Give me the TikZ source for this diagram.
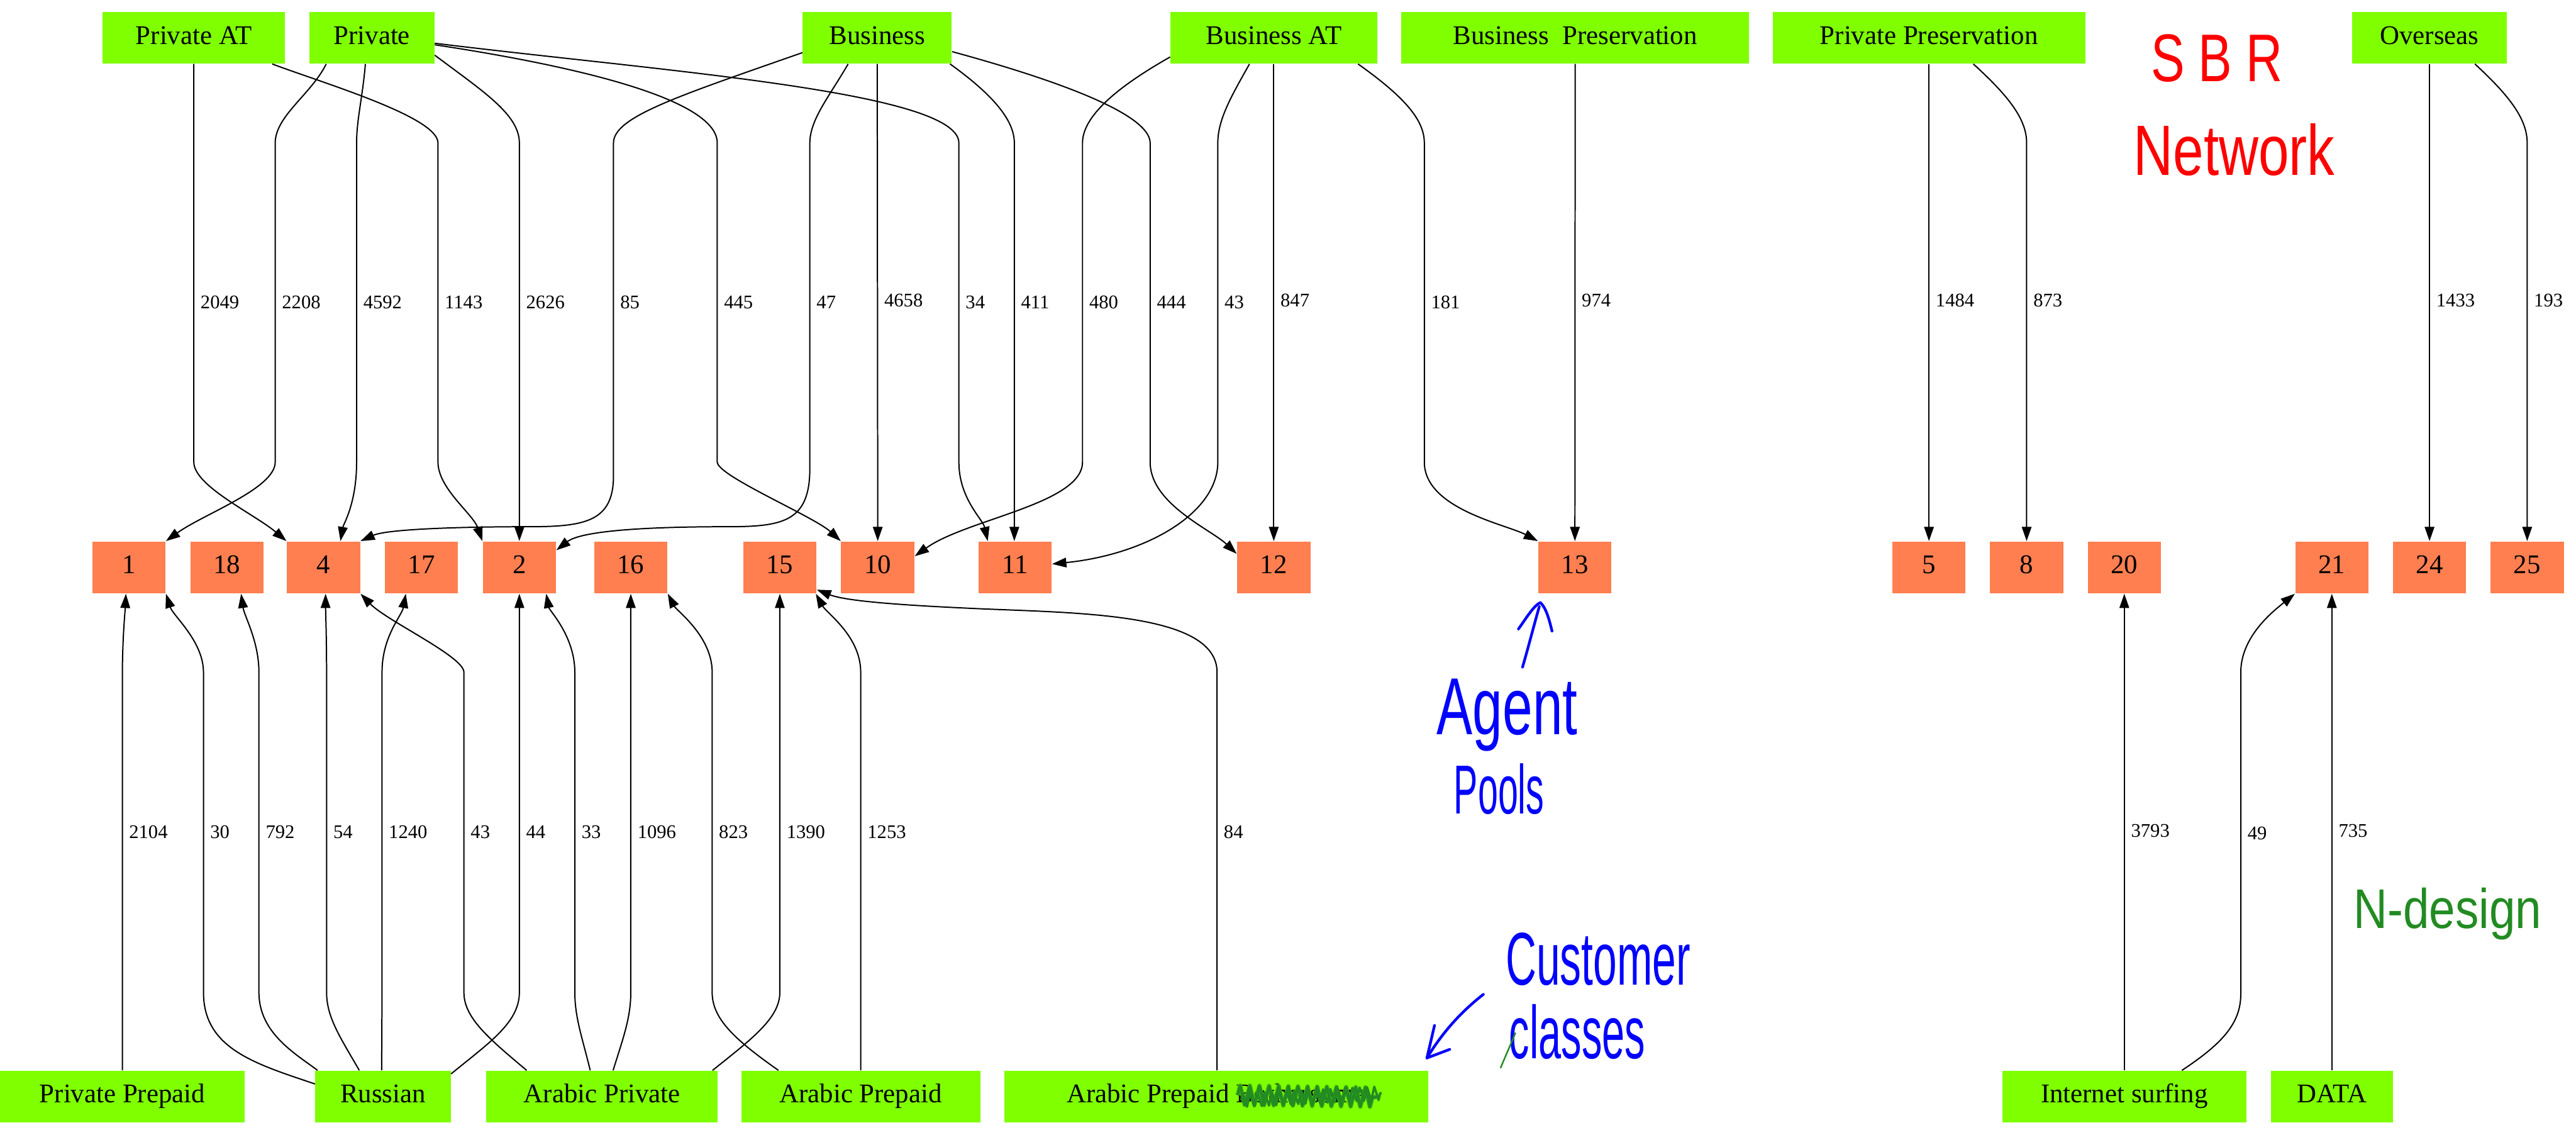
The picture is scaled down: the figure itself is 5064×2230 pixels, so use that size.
\documentclass[tikz,border=0pt]{standalone}
\usepackage{fontspec}
\usepackage{graphicx}
\setmainfont{Liberation Serif}
\newfontfamily\handfont{Liberation Sans}
\usetikzlibrary{arrows.meta,calc,decorations.pathmorphing}

\definecolor{classgreen}{HTML}{7FFF00}
\definecolor{poolcoral}{HTML}{FF7F50}
\definecolor{penred}{HTML}{FF0000}
\definecolor{penblue}{HTML}{0000FF}
\definecolor{pengreen}{HTML}{228B22}

% one drawing unit
\newcommand{\pxl}{0.2641pt}

\tikzset{
  cls/.style={fill=classgreen, inner sep=0pt, minimum height=101*\pxl,
    font=\fontsize{14}{16}\selectfont, text height=9.3pt, text depth=2.8pt},
  pool/.style={fill=poolcoral, inner sep=0pt, minimum width=144*\pxl, minimum height=102*\pxl,
    font=\fontsize{14}{16}\selectfont, text height=9.3pt, text depth=2.8pt},
  flow/.style={line width=0.65pt, -{Triangle[length=7.4pt,width=5pt]}},
  lab/.style={anchor=west, inner sep=0pt, xshift=3.2pt, font=\fontsize{10}{11}\selectfont},
  pen/.style={line width=1.4pt, line cap=round, line join=round},
  hand/.style={inner sep=0pt},
}

\begin{document}
\begin{tikzpicture}[x=\pxl, y=-\pxl]
\fill[white] (0,0) rectangle (5064,2230);
\useasboundingbox (0,0) rectangle (5064,2230);

% ---- customer classes (top row)
\node[cls, minimum width=358*\pxl] (pat) at (381,74.5) {Private AT};
\node[cls, minimum width=246*\pxl] (pri) at (731,74.5) {Private};
\node[cls, minimum width=293*\pxl] (bus) at (1724.5,74.5) {Business};
\node[cls, minimum width=406*\pxl] (bat) at (2504,74.5) {Business AT};
\node[cls, minimum width=683*\pxl] (bpr) at (3096.5,74.5) {Business\ \ Preservation};
\node[cls, minimum width=614*\pxl] (ppr) at (3792,74.5) {Private Preservation};
\node[cls, minimum width=304*\pxl] (ovs) at (4776,74.5) {Overseas};

% ---- agent pools
\foreach \n/\x in {1/253.5, 18/446, 4/636, 17/828.5, 2/1021, 16/1240, 15/1533,
                   10/1725.5, 11/1995.5, 12/2504, 13/3096, 5/3792, 8/3984,
                   20/4176, 21/4584, 24/4776, 25/4968}
  \node[pool] (o\n) at (\x,1115) {\n};

% ---- customer classes (bottom row)
\node[cls, minimum width=481*\pxl] (pp) at (240.5,2154.5) {Private Prepaid};
\node[cls, minimum width=266*\pxl] (rus) at (753,2154.5) {Russian};
\node[cls, minimum width=455*\pxl] (ap) at (1183.5,2154.5) {Arabic Private};
\node[cls, minimum width=470*\pxl] (apr) at (1692,2154.5) {Arabic Prepaid};
\node[cls, minimum width=833*\pxl] (apb) at (2391.5,2154.5) {Arabic Prepaid Bothersome};
\node[cls, minimum width=480*\pxl] (inet) at (4176,2154.5) {Internet surfing};
\node[cls, minimum width=240*\pxl] (data) at (4584,2154.5) {DATA};

% ---- flows from the top classes
\draw[flow] (pat.south) -- (381,281) -- node[lab] (lt2049) {2049} (381,908)
  .. controls (381,955) and (500,1010) .. (o4.north west);
\draw[flow] ($(pri.south west)+(34,0)$) .. controls (612,185) and (541,228) .. (541,281)
  -- node[lab] (lt2208) {2208} (541,908) .. controls (541,960) and (400,1010) .. (o1.north east);
\draw[flow] ($(pri.south west)+(111,0)$) .. controls (713,190) and (701,235) .. (701,281)
  -- node[lab] (lt4592) {4592} (701,908) .. controls (701,990) and (675,1030) .. ($(o4.north west)+(106,0)$);
\draw[flow] ($(pat.south west)+(334,0)$) .. controls (640,165) and (861,230) .. (861,281)
  -- node[lab] (lt1143) {1143} (861,908) .. controls (861,960) and (930,1010) .. (o2.north west);
\draw[flow] ($(pri.east)+(0,34)$) .. controls (950,180) and (1021,225) .. (1021,281)
  -- node[lab] (lt2626) {2626} (1021,908) -- (o2.north);
\draw[flow] ($(bus.west)+(0,29)$) .. controls (1330,190) and (1206,230) .. (1206,281)
  -- node[lab] (lt85) {85} (1206,908) -- (1206,935)
  .. controls (1206,1025) and (1150,1035) .. (1040,1035)
  .. controls (900,1035) and (760,1040) .. (o4.north east);
\draw[flow] ($(pri.east)+(0,13.5)$) .. controls (1100,125) and (1410,190) .. (1410,281)
  -- node[lab] (lt445) {445} (1410,908) .. controls (1410,935) and (1600,1015) .. (o10.north west);
\draw[flow] ($(bus.south west)+(90,0)$) .. controls (1630,190) and (1592,235) .. (1592,281)
  -- node[lab] (lt47) {47} (1592,908) -- (1592,920)
  .. controls (1592,1025) and (1540,1035) .. (1430,1035)
  .. controls (1250,1035) and (1140,1045) .. ($(o2.north east)+(0,18)$);
\draw[flow] (bus.south) -- node[lab, pos=0.496] (lt4658) {4658} (o10.north);
\draw[flow] ($(pri.east)+(0,10.5)$) .. controls (1300,140) and (1885,180) .. (1885,281)
  -- node[lab] (lt34) {34} (1885,908) .. controls (1885,980) and (1932,1020) .. ($(o11.north west)+(19,0)$);
\draw[flow] ($(bus.south east)+(-4,0)$) .. controls (1950,185) and (1994,235) .. (1994,281)
  -- node[lab] (lt411) {411} (1994,908) -- ($(o11.north)+(-1.5,0)$);
\draw[flow] ($(bat.west)+(0,37.5)$) .. controls (2180,180) and (2128,235) .. (2128,281)
  -- node[lab] (lt480) {480} (2128,908) .. controls (2128,990) and (1900,1020) .. ($(o10.east)+(0,-22)$);
\draw[flow] ($(bus.east)+(0,27)$) .. controls (2050,150) and (2261,220) .. (2261,281)
  -- node[lab] (lt444) {444} (2261,908) .. controls (2261,990) and (2380,1040) .. ($(o12.north west)+(0,25)$);
\draw[flow] ($(bat.south west)+(156,0)$) .. controls (2420,190) and (2394,235) .. (2394,281)
  -- node[lab] (lt43) {43} (2394,908) .. controls (2394,1010) and (2250,1090) .. ($(o11.north east)+(0,45)$);
\draw[flow] (bat.south) -- node[lab, pos=0.496] (lt847) {847} (o12.north);
\draw[flow] ($(bat.south east)+(-38,0)$) .. controls (2760,190) and (2800,235) .. (2800,281)
  -- node[lab] (lt181) {181} (2800,908) .. controls (2800,1000) and (2960,1030) .. (o13.north west);
\draw[flow] (bpr.south) -- node[lab, pos=0.496] (lt974) {974} (o13.north);
\draw[flow] (ppr.south) -- node[lab, pos=0.496] (lt1484) {1484} (o5.north);
\draw[flow] ($(ppr.south west)+(395,0)$) .. controls (3950,190) and (3984,235) .. (3984,281)
  -- node[lab, pos=0.396] (lt873) {873} (o8.north);
\draw[flow] (ovs.south) -- node[lab, pos=0.496] (lt1433) {1433} (o24.north);
\draw[flow] ($(ovs.south west)+(242,0)$) .. controls (4935,190) and (4968,235) .. (4968,281)
  -- node[lab, pos=0.396] (lt193) {193} (o25.north);

% ---- flows from the bottom classes
\draw[flow] (pp.north) -- (240.5,1950) -- node[lab] (lb2104) {2104} (240.5,1321)
  .. controls (241,1250) and (246,1200) .. ($(o1.south)+(-6,0)$);
\draw[flow] ($(rus.west)+(0,-24.5)$) .. controls (500,2090) and (400,2060) .. (400,1950)
  -- node[lab] (lb30) {30} (400,1321) .. controls (400,1260) and (340,1210) .. (o1.south east);
\draw[flow] ($(rus.north west)+(5,0)$) .. controls (580,2070) and (509,2030) .. (509,1950)
  -- node[lab] (lb792) {792} (509,1321) .. controls (509,1260) and (480,1210) .. ($(o18.south)+(28,0)$);
\draw[flow] ($(rus.north west)+(87,0)$) .. controls (670,2040) and (642,2000) .. (642,1950)
  -- node[lab] (lb54) {54} (642,1321) .. controls (642,1250) and (640,1200) .. ($(o4.south)+(4,0)$);
\draw[flow] ($(rus.north west)+(131,0)$) -- (751,1950) -- node[lab] (lb1240) {1240} (751,1321)
  .. controls (751,1250) and (790,1210) .. ($(o17.south west)+(42,0)$);
\draw[flow] ($(rus.north east)+(0,7)$) .. controls (960,2050) and (1021,2010) .. (1021,1950)
  -- node[lab] (lb44) {44} (1021,1321) -- (o2.south);
\draw[flow] ($(ap.north west)+(80,0)$) .. controls (960,2040) and (912,2000) .. (912,1950)
  -- node[lab] (lb43) {43} (912,1321) .. controls (912,1290) and (760,1220) .. (o4.south east);
\draw[flow] ($(ap.north west)+(205,0)$) .. controls (1145,2040) and (1130,2000) .. (1130,1950)
  -- node[lab] (lb33) {33} (1130,1321) .. controls (1130,1250) and (1080,1200) .. ($(o2.south east)+(-20,0)$);
\draw[flow] ($(ap.north west)+(250,0)$) .. controls (1225,2040) and (1240,2000) .. (1240,1950)
  -- node[lab] (lb1096) {1096} (1240,1321) -- (o16.south);
\draw[flow] ($(ap.north east)+(-11,0)$) .. controls (1480,2040) and (1533,2000) .. (1533,1950)
  -- node[lab] (lb1390) {1390} (1533,1321) -- (o15.south);
\draw[flow] ($(apr.north west)+(74,0)$) .. controls (1440,2040) and (1400,2000) .. (1400,1950)
  -- node[lab] (lb823) {823} (1400,1321) .. controls (1400,1250) and (1330,1200) .. (o16.south east);
\draw[flow] (apr.north) -- (1692,1950) -- node[lab] (lb1253) {1253} (1692,1321)
  .. controls (1692,1250) and (1625,1205) .. ($(o15.south east)+(-2,0)$);
\draw[flow] ($(apb.north)+(1,0)$) -- (2392.5,1950) -- node[lab] (lb84) {84} (2392.5,1321)
  .. controls (2392.5,1200) and (2100,1205) .. (1900,1195)
  .. controls (1750,1188) and (1660,1180) .. ($(o15.south east)+(0,-8)$);
\draw[flow] (inet.north) -- node[lab, pos=0.503] (lb3793) {3793} (o20.south);
\draw[flow] ($(inet.north west)+(354,0)$) .. controls (4370,2050) and (4405,2010) .. (4405,1953)
  -- node[lab] (lb49) {49} (4405,1321) .. controls (4405,1250) and (4470,1200) .. (o21.south west);
\draw[flow] (data.north) -- node[lab, pos=0.503] (lb735) {735} (o21.south);

% ---- scribble over the last word of a class name
\draw[pengreen!70!classgreen, line width=2.2pt, line join=round, decorate,
      decoration={zigzag, segment length=5pt, amplitude=5pt}] (2433,2152) -- (2706,2156);
\draw[pengreen, line width=1.3pt, line join=round, decorate,
      decoration={zigzag, segment length=5pt, amplitude=5pt}] (2433,2152) -- (2706,2156);
\draw[pengreen, line width=1.2pt, line join=round, decorate,
      decoration={zigzag, segment length=3.8pt, amplitude=3.5pt}] (2440,2162) -- (2716,2148);

% ---- pen notes
\node[hand, text=penred, font=\handfont\fontsize{35}{40}\selectfont] (sbr) at (4358,115)
  {\scalebox{0.75}[1]{S\hspace{9.5pt}B\hspace{9.5pt}R}};
\node[hand, text=penred, font=\handfont\fontsize{37}{42}\selectfont] (netw) at (4392,294)
  {\scalebox{0.77}[1]{Network}};
\node[hand, text=penblue, font=\handfont\fontsize{42}{48}\selectfont] (agent) at (2963,1405)
  {\scalebox{0.665}[1]{Agent}};
\node[hand, text=penblue, font=\handfont\fontsize{36}{40}\selectfont] (pools) at (2947,1550)
  {\scalebox{0.52}[1]{Pools}};
\node[hand, text=penblue, font=\handfont\fontsize{38.8}{44}\selectfont] (cust) at (3141.5,1885)
  {\scalebox{0.57}[1]{Customer}};
\node[hand, text=penblue, font=\handfont\fontsize{38.8}{44}\selectfont] (classes) at (3100.5,2027)
  {\scalebox{0.545}[1]{classes}};
\node[hand, text=pengreen, font=\handfont\fontsize{29}{34}\selectfont] (ndesign) at (4811.5,1796)
  {\scalebox{0.84}[1]{N-design}};

\draw[pen, penblue] (2993,1311) .. controls (3005,1270) and (3015,1230) .. (3026,1192);
\draw[pen, penblue] (2985,1236) .. controls (3000,1215) and (3015,1190) .. (3028,1184)
  .. controls (3040,1195) and (3046,1220) .. (3051,1240);
\draw[pen, penblue] (2916,1954) .. controls (2870,1990) and (2835,2030) .. (2805,2079);
\draw[pen, penblue] (2820,2015) -- (2805,2079) -- (2850,2062);
\draw[pengreen, line width=0.8pt, line cap=round] (2950,2098) -- (2979,2030);
\end{tikzpicture}
\end{document}
